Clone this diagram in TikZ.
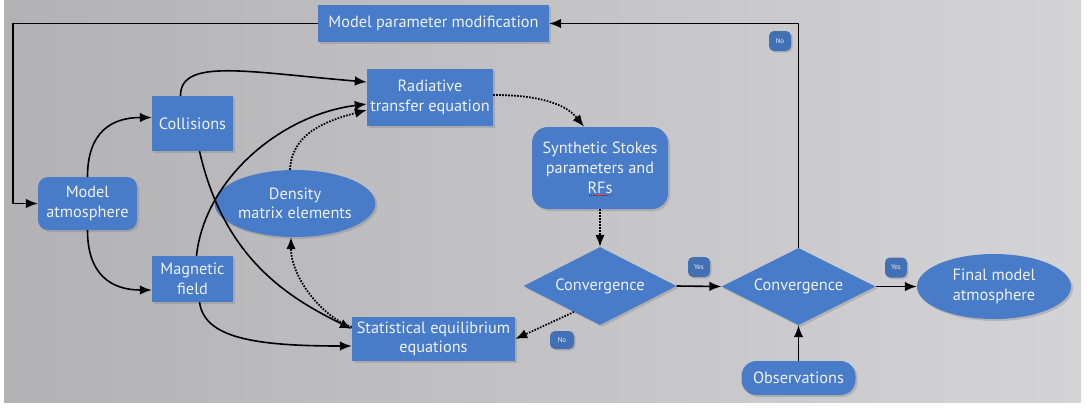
\documentclass[tikz,border=0pt]{standalone}
\usepackage{fontspec}
\setmainfont{PT Sans}
\usetikzlibrary{shapes.geometric,arrows.meta,shadows,calc}
\definecolor{nodeblue}{RGB}{72,124,200}
\definecolor{txt}{RGB}{238,241,246}
\definecolor{bgA}{RGB}{178,178,181}
\definecolor{bgB}{RGB}{212,212,215}
\begin{document}
\begin{tikzpicture}[x=1pt,y=-1pt,
  box/.style={draw=none, fill=nodeblue, text=txt, align=center, inner sep=0pt,
    font=\fontsize{16.3}{19.5}\selectfont,
    drop shadow={shadow xshift=2pt, shadow yshift=-2pt, opacity=0.35}},
  rbox/.style={box, rounded corners=10pt},
  dia/.style={box, diamond, shape aspect=2},
  ell/.style={box, ellipse},
  lab/.style={fill=nodeblue!90!black, text=txt, rounded corners=5pt, inner sep=0pt,
    minimum width=22pt, minimum height=20pt, font=\fontsize{7}{8}\selectfont,
    drop shadow={shadow xshift=1.5pt, shadow yshift=-1.5pt, opacity=0.35}},
  tipstyle/.style={-{Latex[length=12pt,width=9.5pt]}},
  arr/.style={line width=1.6pt, tipstyle},
  fb/.style={line width=1.3pt, tipstyle},
  dots/.style={line width=1.8pt, dash pattern=on 1.6pt off 1.4pt, tipstyle}
]
\useasboundingbox (0,0) rectangle (1087,408);
\fill[white] (0,0) rectangle (1087,408);
\shade[left color=bgA, right color=bgB] (4,0) rectangle (1081,402);

% nodes
\node[box, minimum width=231pt, minimum height=37pt] (mpm) at (433.5,23.5) {Model parameter modification};
\node[box, minimum width=126pt, minimum height=57pt] (rte) at (430,97.5) {Radiative\\transfer equation};
\node[box, minimum width=81pt, minimum height=55pt] (col) at (192.5,123.5) {Collisions};
\node[rbox, minimum width=99pt, minimum height=53pt] (matm) at (87.5,203.5) {Model\\atmosphere};
\node[ell, minimum width=140pt, minimum height=67pt] (dme) at (295,203.5) {Density\\matrix elements};
\node[box, minimum width=81pt, minimum height=46pt] (mag) at (192.5,279) {Magnetic\\field};
\node[box, minimum width=163pt, minimum height=44pt] (see) at (433.5,339) {Statistical equilibrium\\equations};
\node[box, rounded corners=16pt, minimum width=136pt, minimum height=82pt, font=\fontsize{16.3}{20}\selectfont] (sto) at (600,168) {Synthetic Stokes\\parameters and\\RFs};
\node[dia, minimum width=153pt, minimum height=78pt] (conv1) at (600,286) {Convergence};
\node[dia, minimum width=154pt, minimum height=77pt] (conv2) at (798.5,286.5) {Convergence};
\node[ell, minimum width=154pt, minimum height=65pt] (fma) at (994,286.5) {Final model\\atmosphere};
\node[box, rounded corners=15pt, minimum width=114pt, minimum height=34pt] (obs) at (798.5,378) {Observations};

\node[lab] (no1) at (780,41) {No};
\node[lab] (yes1) at (699,267) {Yes};
\node[lab] (yes2) at (896,267.5) {Yes};
\node[lab, minimum width=24pt, minimum height=18pt] (no2) at (562,340) {No};

% spelling squiggle under RFs
\draw[red!85!black, line width=0.9pt, dash pattern=on 1.2pt off 1pt] ($(sto.center)+(-11,27)$) -- ++(23,0);

% feedback loop
\coordinate (fbl) at (13,23.5);
\draw[fb] (mpm.west) -- (fbl) |- (matm.west);
\draw[fb] (conv2.north) |- (mpm.east);

% solid connectors
\draw[arr] (matm.north) .. controls +(0,-45) and +(-40,0) .. ([yshift=6pt]col.west);
\draw[arr] (matm.south) .. controls +(0,45) and +(-40,0) .. ([yshift=-11pt]mag.west);
\draw[arr] ([xshift=-12pt]col.north) .. controls +(0,-38) and +(-120,-10) .. ([yshift=15.5pt]rte.west);
\draw[arr] ([xshift=7pt]col.south) .. controls +(25,110) and +(-60,-30) .. ([yshift=10pt]see.west);
\draw[arr] ([xshift=4pt]mag.north) .. controls +(8,-76) and +(-87,11) .. ([yshift=-6.5pt]rte.west);
\draw[arr] ([xshift=7pt]mag.south) .. controls +(5,35) and +(-100,0) .. ([yshift=-7pt]see.west);
\draw[arr] (conv1.east) -- (conv2.west);
\draw[arr] (conv2.east) -- (fma.west);
\draw[arr] (obs.north) -- (conv2.south);

% dotted connectors
\draw[dots] ([xshift=-5pt]dme.north) .. controls +(2,-35) and +(-45,12) .. ([yshift=-12.5pt]rte.west);
\draw[dots] ([yshift=12pt]see.west) .. controls +(-30,-10) and +(0,40) .. ([xshift=-4pt]dme.south);
\draw[dots] ([yshift=2.5pt]rte.east) .. controls +(40,0) and +(-20,-25) .. ([xshift=-16pt]sto.north);
\draw[dots] (sto.south) -- (conv1.north);
\draw[dots] (conv1.225) -- (see.east);
\end{tikzpicture}
\end{document}
